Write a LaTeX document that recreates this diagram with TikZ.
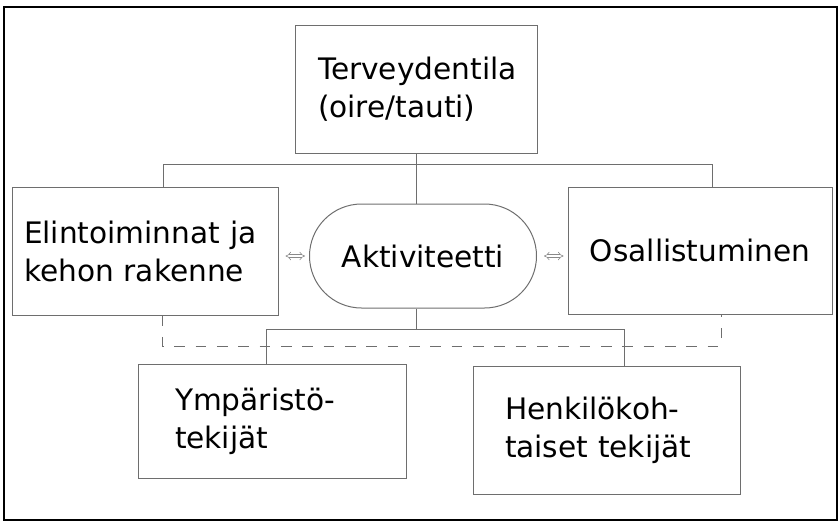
\documentclass[tikz,border=0pt]{standalone}
\usepackage{fontspec}
\setmainfont{DejaVu Sans}
\usepackage{tikz}
\usetikzlibrary{arrows.meta}
\hyphenpenalty=10000
\definecolor{boxgray}{HTML}{6E6E6E}
\definecolor{arrgray}{HTML}{8A8A8A}
\tikzset{
	box/.style={draw=boxgray, line width=0.75pt, align=left, inner ysep=0pt,
		font=\fontsize{22.2}{28.5}\selectfont},
	conn/.style={draw=boxgray, line width=0.75pt},
	dbl/.style={draw=arrgray, line width=0.45pt, double distance=1.7pt,
		{Implies}-{Implies}, shorten <=5.25pt, shorten >=3pt}
}

\begin{document}
\begin{tikzpicture}[x=0.75pt, y=-0.75pt]
			%%%%% START %%%%%
			\useasboundingbox (0,0) rectangle (838,521);
			\draw[line width=1.1pt] (4,7) rectangle (837,520);
			
			\node[box, minimum width=181.5pt, minimum height=96pt, text width=147pt, inner xsep=17.25pt] (terv) at (416,89) {Terveydentila\\(oire/tauti)};
			\node[box, minimum width=199.5pt, minimum height=96pt, text width=181.5pt, inner xsep=9pt] (eli) at (145,251) {Elintoiminnat ja\\kehon rakenne};
			\node[box, minimum width=170.25pt, minimum height=78pt, rounded corners=39pt, align=center] (akt) at (423,256) {Aktiviteetti};
			\node[box, minimum width=198pt, minimum height=95.25pt, align=center] (osa) at (700,250.5) {Osallistuminen};
			\node[box, minimum width=201pt, minimum height=85.5pt, text width=145.5pt, inner xsep=27.75pt] (ymp) at (272,421) {Ympäristö-\\tekijät};
			\node[box, minimum width=200.25pt, minimum height=96pt, text width=152.25pt, inner xsep=24pt] (hen) at (606.5,430) {Henkilökoh-\\taiset tekijät};
			
			% upper tree
			\coordinate (ta) at (163,164);
			\coordinate (tb) at (712,164);
			\draw[conn] (terv.south) -- (terv.south |- akt.north);
			\draw[conn] (ta |- eli.north) -- (ta) -- (tb) -- (tb |- osa.north);
			
			% lower tree
			\coordinate (ba) at (266,329);
			\coordinate (bb) at (624,329);
			\draw[conn] (terv.south |- akt.south) -- (terv.south |- ba);
			\draw[conn] (ba |- ymp.north) -- (ba) -- (bb) -- (bb |- hen.north);
			
			% dashed link
			\coordinate (da) at (162,346);
			\coordinate (db) at (721,346);
			\draw[conn, dash pattern=on 8pt off 8pt] (da |- eli.south) -- (da) -- (db) -- (db |- osa.south);
			
			\draw[dbl] (eli.east |- akt.west) -- (akt.west);
			\draw[dbl] (akt.east) -- (akt.east -| osa.west);
			%%%%% END %%%%%
\end{tikzpicture}
\end{document}
